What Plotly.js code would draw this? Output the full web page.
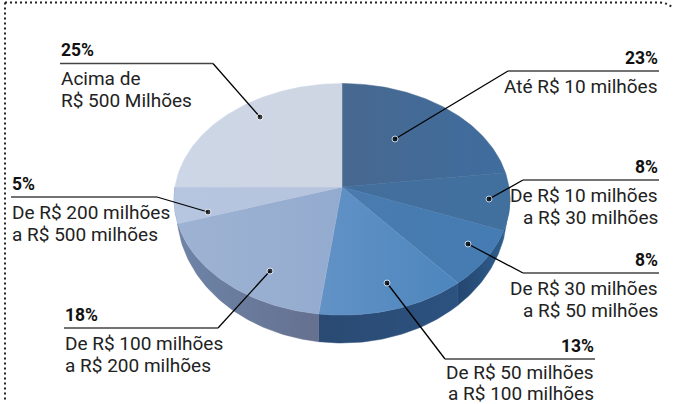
<!DOCTYPE html>
<html><head><meta charset="utf-8">
<script src="https://cdn.plot.ly/plotly-3.0.1.min.js"></script>
<style>html,body{margin:0;padding:0;background:#fff}#c{width:673px;height:404px}</style>
</head><body><div id="c"></div>
<script>
var categories = ["Até R$ 10 milhões","De R$ 10 milhões|a R$ 30 milhões","De R$ 30 milhões|a R$ 50 milhões","De R$ 50 milhões|a R$ 100 milhões","De R$ 100 milhões|a R$ 200 milhões","De R$ 200 milhões|a R$ 500 milhões","Acima de|R$ 500 Milhões"];
var shares = [23,8,8,13,18,5,25];
var topColors = [["#47688f","#3f6d9f"],["#436e9c","#41709f"],["#4a7bae","#447cb3"],["#6292c6","#4c86bd"],["#9eb3d3","#93abcf"],["#b6c5e0","#b6c4dc"],["#cdd6e6","#ced6e3"]];
var wallColors = [["#2c4e78","#2c4e78"],["#2a4d78","#3a6a99"],["#24466f","#2f5d8c"],["#2a4a72","#2c5280"],["#6d84a8","#66708f"],["#7c93b5","#7c93b5"],["#9aa","#9aa"]];

var cx=342, cy=187, B=167, A=114.5, K=0.106, wallRx=165, wallCy=212, wallRy=131;
function proj(deg){
  var t=deg*Math.PI/180, s=Math.sin(t), c=Math.cos(t), d=1+K*c;
  return [cx+B*s/d, cy-A*c/d];
}
function projBottom(deg){
  var p=proj(deg), s=Math.max(-1,Math.min(1,(p[0]-cx)/wallRx));
  return [cx+wallRx*s, wallCy+wallRy*Math.sqrt(1-s*s)];
}
function angles(a,b){var out=[],d;for(d=a;d<b;d+=1)out.push(d);out.push(b);return out;}
var traces=[];
function grad(p){return {type:"horizontal",colorscale:[[0,p[0]],[1,p[1]]]};}
var total=shares.reduce(function(a,b){return a+b},0), cum=0, spans=[];
shares.forEach(function(v){var a=cum/total*360;cum+=v;spans.push([a,cum/total*360]);});
spans.forEach(function(sp,i){
  var a0=Math.max(sp[0],90), a1=Math.min(sp[1],270);
  if(a1<=a0) return;
  var x=[],y=[],list=angles(a0,a1);
  list.forEach(function(a){var p=proj(a);x.push(p[0]);y.push(p[1]);});
  list.slice().reverse().forEach(function(a){var p=projBottom(a);x.push(p[0]);y.push(p[1]);});
  x.push(x[0]);y.push(y[0]);
  traces.push({type:"scatter",mode:"lines",x:x,y:y,fill:"toself",fillgradient:grad(wallColors[i]),line:{width:0.5,color:wallColors[i][1]},hoverinfo:"skip",showlegend:false});
});
spans.forEach(function(sp,i){
  var x=[cx],y=[cy];
  angles(sp[0],sp[1]).forEach(function(a){var p=proj(a);x.push(p[0]);y.push(p[1]);});
  x.push(cx);y.push(cy);
  traces.push({type:"scatter",mode:"lines",x:x,y:y,fill:"toself",fillgradient:grad(topColors[i]),line:{width:0.5,color:topColors[i][0]},hoverinfo:"skip",showlegend:false,name:categories[i]});
});

var callouts=[
 {dot:[395,139],elbow:[508,71],end:659,side:"right",first:15,gap:22},
 {dot:[489,199],elbow:[523,180],end:659,side:"right",first:15,gap:22},
 {dot:[468,244],elbow:[523,273],end:659,side:"right",first:15,gap:22},
 {dot:[387,283],elbow:[445,359],end:595,side:"right",first:13,gap:21},
 {dot:[270,271],elbow:[218,328],end:64,side:"left",first:15,gap:22},
 {dot:[208,212],elbow:[157,197],end:11,side:"left",first:15,gap:22},
 {dot:[260,117],elbow:[213,63.5],end:60,side:"left",first:15,gap:22}
];
var ann=[];
callouts.forEach(function(c,i){
  traces.push({type:"scatter",mode:"lines+markers",x:[c.dot[0],c.elbow[0]],y:[c.dot[1],c.elbow[1]],
    line:{color:"#000",width:1.3},marker:{size:[6,0.1],color:"#000"},hoverinfo:"skip",showlegend:false});
  traces.push({type:"scatter",mode:"lines",x:[c.elbow[0],c.end],y:[c.elbow[1],c.elbow[1]],
    line:{color:"#444",width:1.6},hoverinfo:"skip",showlegend:false});
  ann.push({x:c.end,y:c.elbow[1]-13.5,xref:"x",yref:"y",xanchor:c.side,yanchor:"middle",showarrow:false,borderpad:0,
    text:"<b>"+shares[i]+"%</b>",font:{family:"Roboto, sans-serif",size:17.5,color:"#111"}});
  categories[i].split("|").forEach(function(line,k){
    ann.push({x:c.end,y:c.elbow[1]+c.first+c.gap*k,xref:"x",yref:"y",xanchor:c.side,yanchor:"middle",showarrow:false,borderpad:0,
      text:line,font:{family:"Roboto, sans-serif",size:19,color:"#222"}});
  });
});

var frame=[
 {type:"line",x0:5,y0:2.5,x1:660,y1:2.5},
 {type:"path",path:"M660,2.5 Q668,3 673,8"},
 {type:"line",x0:5,y0:2.5,x1:5,y1:402}
].map(function(s){s.xref="x";s.yref="y";s.line={color:"#222",width:2,dash:"2px,3px"};return s;});

Plotly.newPlot("c",traces,{
  width:673,height:404,margin:{l:0,r:0,t:0,b:0},paper_bgcolor:"#fff",plot_bgcolor:"#fff",showlegend:false,
  xaxis:{range:[0,673],visible:false,fixedrange:true},
  yaxis:{range:[404,0],visible:false,fixedrange:true},
  annotations:ann,shapes:frame
},{displayModeBar:false,staticPlot:true});
</script></body></html>
